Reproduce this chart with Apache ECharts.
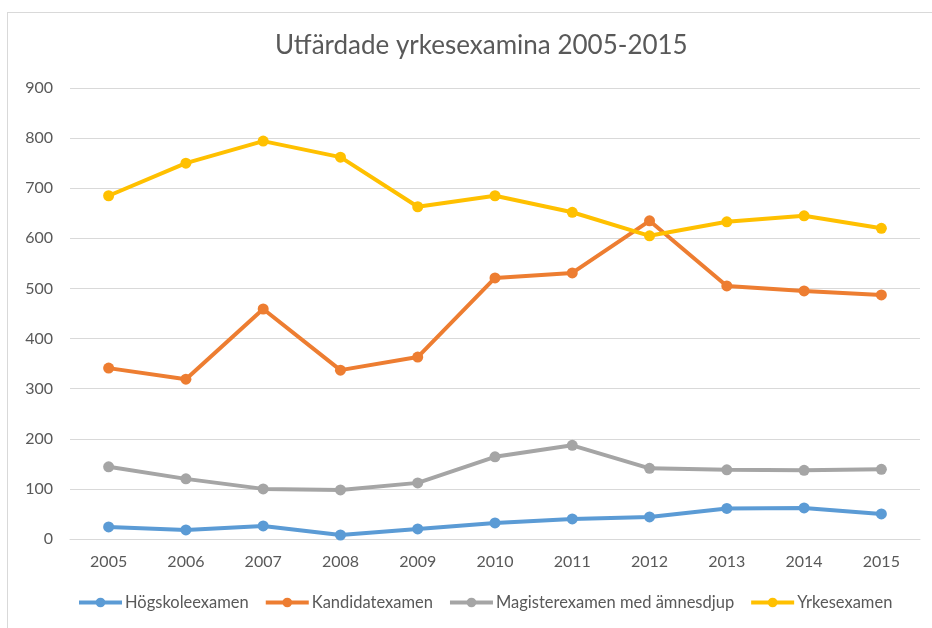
<!DOCTYPE html>
<html>
<head>
<meta charset="utf-8">
<script src="https://cdn.jsdelivr.net/npm/echarts@6/dist/echarts.min.js"></script>
<style>
  html, body { margin: 0; padding: 0; background: #fff; }
  #frame { position: absolute; left: 7px; top: 12px; width: 930px; height: 620px; border: 1px solid #d9d9d9; box-sizing: border-box; }
  #chart { position: absolute; left: 0; top: 0; width: 932px; height: 628px; }
</style>
</head>
<body>
<div id="frame"></div>
<div id="chart"></div>
<script>
var years = ['2005', '2006', '2007', '2008', '2009', '2010', '2011', '2012', '2013', '2014', '2015']
var hogskole = [24, 18, 26, 8, 20, 32, 40, 44, 61, 62, 50]
var kandidat = [341, 319, 459, 337, 363, 521, 531, 635, 505, 495, 487]
var magister = [144, 120, 100, 98, 112, 164, 187, 141, 138, 137, 139]
var yrkes = [685, 750, 794, 762, 663, 685, 652, 605, 633, 645, 620]

var fontName = 'Lato'
var textColor = '#595959'

function line (name, data, color) {
  return {
    name: name,
    type: 'line',
    data: data,
    symbol: 'circle',
    symbolSize: 11,
    itemStyle: { color: color },
    lineStyle: { color: color, width: 4 }
  }
}

var myChart = echarts.init(document.getElementById('chart'))
var option = {
  animation: false,
  title: {
    text: 'Utfärdade yrkesexamina 2005-2015',
    left: 270,
    top: 28,
    textStyle: { fontFamily: fontName, fontSize: 26, fontWeight: 'normal', color: textColor }
  },
  legend: {
    bottom: 12,
    left: 72,
    itemWidth: 43,
    itemHeight: 12,
    itemGap: 15,
    lineStyle: { width: 4 },
    textStyle: { fontFamily: fontName, fontSize: 16.5, color: textColor, padding: [0, 0, 0, -2] },
    data: ['Högskoleexamen', 'Kandidatexamen', 'Magisterexamen med ämnesdjup', 'Yrkesexamen']
  },
  grid: { left: 70, right: 12, top: 88, bottom: 89 },
  xAxis: {
    type: 'category',
    data: years,
    axisLine: { lineStyle: { color: '#d9d9d9' } },
    axisTick: { show: false },
    axisLabel: { fontFamily: fontName, fontSize: 16, color: textColor, margin: 15 }
  },
  yAxis: {
    type: 'value',
    min: 0,
    max: 900,
    interval: 100,
    axisLine: { show: false },
    axisTick: { show: false },
    axisLabel: { fontFamily: fontName, fontSize: 16, color: textColor, margin: 17 },
    splitLine: { lineStyle: { color: '#d9d9d9', width: 1 } }
  },
  series: [
    line('Högskoleexamen', hogskole, '#5b9bd5'),
    line('Kandidatexamen', kandidat, '#ed7d31'),
    line('Magisterexamen med ämnesdjup', magister, '#a5a5a5'),
    line('Yrkesexamen', yrkes, '#ffc000')
  ]
}
myChart.setOption(option, true)
</script>
</body>
</html>
